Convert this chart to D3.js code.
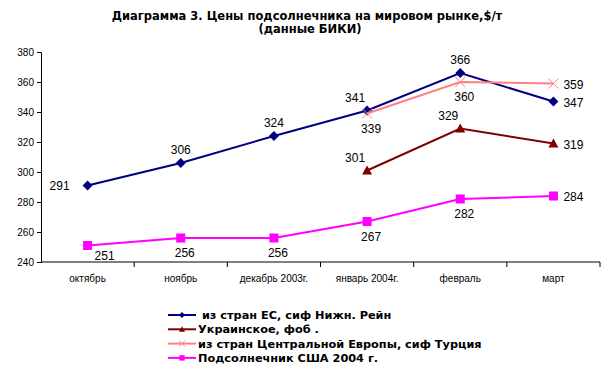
<!DOCTYPE html>
<html>
<head>
<meta charset="utf-8">
<script src="https://cdn.jsdelivr.net/npm/d3@7"></script>
<style>
body { margin: 0; background: #fff; }
</style>
</head>
<body>
<svg></svg>
<script>
const months = ["октябрь", "ноябрь", "декабрь 2003г.", "январь 2004г.", "февраль", "март"];
const yTicks = [240, 260, 280, 300, 320, 340, 360, 380];

const euValues = [291, 306, 324, 341, 366, 347];
const ukrValues = [null, null, null, 301, 329, 319];
const ceValues = [null, null, null, 339, 360, 359];
const usaValues = [251, 256, 256, 267, 282, 284];

const seriesNames = [" из стран ЕС, сиф Нижн. Рейн", "Украинское, фоб .", "из стран Центральной Европы, сиф Турция", "Подсолнечник США 2004 г."];

const width = 615;
const height = 371;

const svg = d3.select("svg")
    .attr("width", width)
    .attr("height", height);

const x = d3.scaleBand()
    .domain(months)
    .range([41, 600]);

const y = d3.scaleLinear()
    .domain([240, 380])
    .range([262, 52]);

svg.append("text")
    .attr("x", 307).attr("y", 20)
    .attr("text-anchor", "middle")
    .style("font", "bold 11.5px 'DejaVu Sans'")
    .text("Диаграмма 3. Цены подсолнечника на мировом рынке,$/т");
svg.append("text")
    .attr("x", 310).attr("y", 33)
    .attr("text-anchor", "middle")
    .style("font", "bold 11.5px 'DejaVu Sans'")
    .text("(данные БИКИ)");

// axes
const yAxis = svg.append("g")
    .attr("transform", "translate(41,0)")
    .call(d3.axisLeft(y).tickValues(yTicks).tickSize(4).tickPadding(3));
yAxis.select(".domain").attr("stroke", "#000");
yAxis.selectAll("text").style("font", "10px 'Liberation Sans'").attr("fill", "#000");

const xAxis = svg.append("g")
    .attr("transform", "translate(0,262)");
xAxis.append("line")
    .attr("x1", 41).attr("x2", 600)
    .attr("stroke", "#000");
xAxis.selectAll("line.tick")
    .data(months)
    .enter().append("line")
    .attr("class", "tick")
    .attr("x1", d => x(d) + x.bandwidth()).attr("x2", d => x(d) + x.bandwidth())
    .attr("y1", 0).attr("y2", 5)
    .attr("stroke", "#000");
xAxis.selectAll("text")
    .data(months)
    .enter().append("text")
    .attr("x", d => x(d) + x.bandwidth() / 2)
    .attr("y", 20)
    .attr("text-anchor", "middle")
    .style("font", "10px 'Liberation Sans'")
    .text(d => d);

const cx = (d, i) => x(months[i]) + x.bandwidth() / 2;

const series = [
    {values: euValues, color: "#000080", marker: "diamond",
     labels: ["l", "t", "t", "tl", "t", "r"]},
    {values: ukrValues, color: "#800000", marker: "triangle",
     labels: [null, null, null, "tl", "tl", "r"]},
    {values: ceValues, color: "#FF8080", marker: "x",
     labels: [null, null, null, "b", "b", "r"]},
    {values: usaValues, color: "#FF00FF", marker: "square",
     labels: ["br", "b", "b", "b", "b", "r"]}
];

const line = d3.line()
    .defined(d => d != null)
    .x(cx)
    .y(d => y(d));

function drawMarker(g, type, color, px, py, r) {
    if (type === "diamond") {
        g.append("path")
            .attr("d", `M${px},${py - r}L${px + r},${py}L${px},${py + r}L${px - r},${py}Z`)
            .attr("fill", color);
    } else if (type === "triangle") {
        g.append("path")
            .attr("d", `M${px},${py - r}L${px + r},${py + r * 0.8}L${px - r},${py + r * 0.8}Z`)
            .attr("fill", color);
    } else if (type === "square") {
        g.append("rect")
            .attr("x", px - r * 0.9).attr("y", py - r * 0.9)
            .attr("width", r * 1.8).attr("height", r * 1.8)
            .attr("fill", color);
    } else if (type === "x") {
        g.append("path")
            .attr("d", `M${px - r},${py - r}L${px + r},${py + r}M${px - r},${py + r}L${px + r},${py - r}`)
            .attr("stroke", color).attr("stroke-width", 1);
    }
}

const offsets = {
    l: [-28, 4, "middle"],
    t: [0, -9, "middle"],
    tl: [-12, -9, "middle"],
    b: [4, 19, "middle"],
    br: [17, 14, "middle"],
    r: [10, 5, "start"]
};

series.forEach(s => {
    const g = svg.append("g");
    g.append("path")
        .datum(s.values)
        .attr("d", line)
        .attr("fill", "none")
        .attr("stroke", s.color)
        .attr("stroke-width", 2);
    s.values.forEach((v, i) => {
        if (v == null) return;
        drawMarker(g, s.marker, s.color, cx(v, i), y(v), 5);
    });
    s.values.forEach((v, i) => {
        if (v == null) return;
        const o = offsets[s.labels[i]];
        g.append("text")
            .attr("x", cx(v, i) + o[0])
            .attr("y", y(v) + o[1])
            .attr("text-anchor", o[2])
            .style("font", "12px 'Liberation Sans'")
            .text(v);
    });
});

// legend
const legend = svg.append("g");
series.forEach((s, i) => {
    const ly = 315 + i * 14.3;
    legend.append("line")
        .attr("x1", 168).attr("x2", 196)
        .attr("y1", ly).attr("y2", ly)
        .attr("stroke", s.color).attr("stroke-width", 2);
    drawMarker(legend, s.marker, s.color, 182, ly, 3);
    legend.append("text")
        .attr("x", 198).attr("y", ly + 4)
        .style("font", "bold 11.3px 'DejaVu Sans'")
        .attr("xml:space", "preserve")
        .style("white-space", "pre")
        .text(seriesNames[i]);
});
</script>
</body>
</html>
